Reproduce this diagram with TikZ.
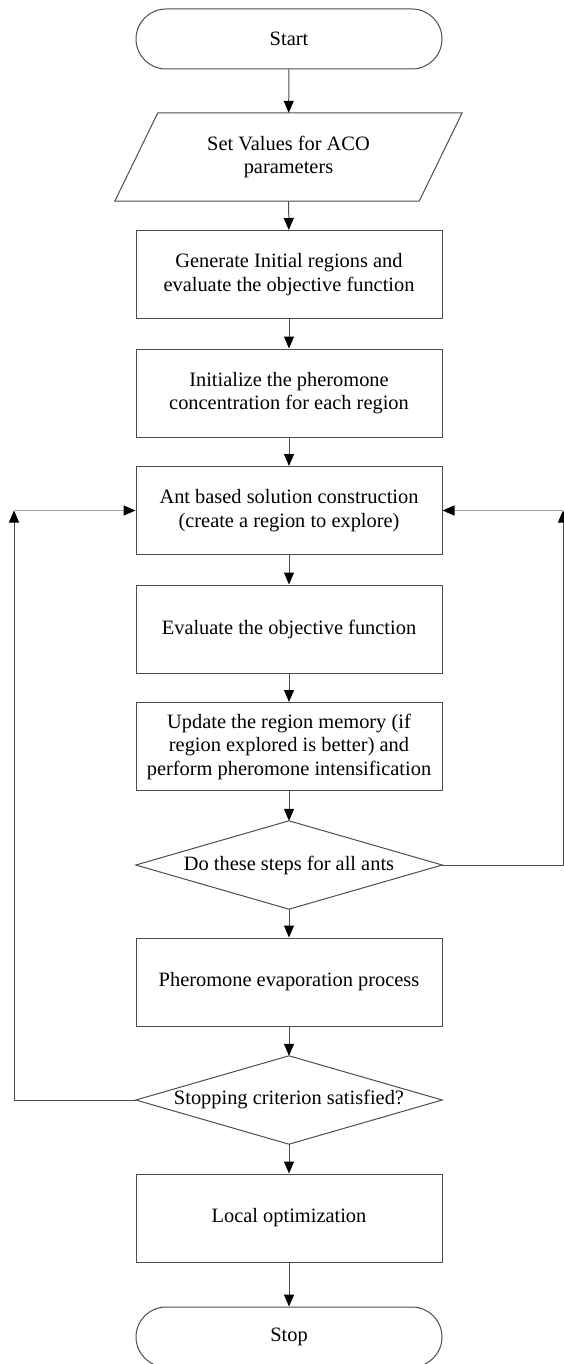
\documentclass[tikz,border=0pt]{standalone}
\usepackage{fontspec}
\setmainfont{Liberation Serif}
\usetikzlibrary{arrows.meta}
\definecolor{boxgray}{HTML}{4D4D4D}
\definecolor{loopgray}{HTML}{A6A6A6}

\begin{document}
\begin{tikzpicture}[x=1pt, y=-1pt,
  every node/.style={font=\fontsize{20.4}{23.5}\selectfont, align=center},
  flat/.style={minimum width=306pt, minimum height=88pt, inner sep=0pt},
  proc/.style={flat, draw=boxgray, line width=1pt},
  term/.style={proc, rounded corners=30pt, minimum height=60pt},
  arr/.style={draw=boxgray, line width=1pt, -{Triangle[length=12pt,width=10pt,black]}},
  back/.style={draw=loopgray, line width=1.3pt, -{Triangle[length=12pt,width=10pt,black]}}]
\useasboundingbox (0,0) rectangle (564,1364);
%main column
\node[term] (start) at (289,39) {Start};
\node[flat, minimum width=347pt] (params) at (288.5,157) {Set Values for ACO\\parameters};
\node[proc] (init) at (289,274.5) {Generate Initial regions and\\evaluate the objective function};
\node[proc] (phero) at (289,393) {Initialize the pheromone\\concentration for each region};
\node[proc] (ant) at (289,510.5) {Ant based solution construction\\(create a region to explore)};
\node[proc] (eval) at (289,629) {Evaluate the objective function};
\node[proc] (update) at (289,746.5) {Update the region memory (if\\region explored is better) and\\perform pheromone intensification};
\node[flat] (ants) at (289,865) {Do these steps for all ants};
\node[proc] (evap) at (289,982) {Pheromone evaporation process};
\node[flat] (crit) at (289,1100) {Stopping criterion satisfied?};
\node[proc] (local) at (289,1218) {Local optimization};
\node[term] (stop) at (289,1337) {Stop};
%outlines drawn by hand
\draw[boxgray, line width=1pt] ([xshift=43pt]params.north west) -- (params.north east)
  -- ([xshift=-43pt]params.south east) -- (params.south west) -- cycle;
\draw[boxgray, line width=1pt] (ants.north) -- (ants.east) -- (ants.south) -- (ants.west) -- cycle;
\draw[boxgray, line width=1pt] (crit.north) -- (crit.east) -- (crit.south) -- (crit.west) -- cycle;
%arrows
\draw[arr] (start) -- (params);
\draw[arr] (params) -- (init);
\draw[arr] (init) -- (phero);
\draw[arr] (phero) -- (ant);
\draw[arr] (ant) -- (eval);
\draw[arr] (eval) -- (update);
\draw[arr] (update) -- (ants.north);
\draw[arr] (ants.south) -- (evap);
\draw[arr] (evap) -- (crit.north);
\draw[arr] (crit.south) -- (local);
\draw[arr] (local) -- (stop);
%loops
\coordinate (rc) at (563,510.5);
\coordinate (lc) at (14,510.5);
\draw[arr] (ants.east) -| (rc);
\draw[back] (rc) -- (ant.east);
\draw[arr] (crit.west) -| (lc);
\draw[back] (lc) -- (ant.west);
\end{tikzpicture}
\end{document}
